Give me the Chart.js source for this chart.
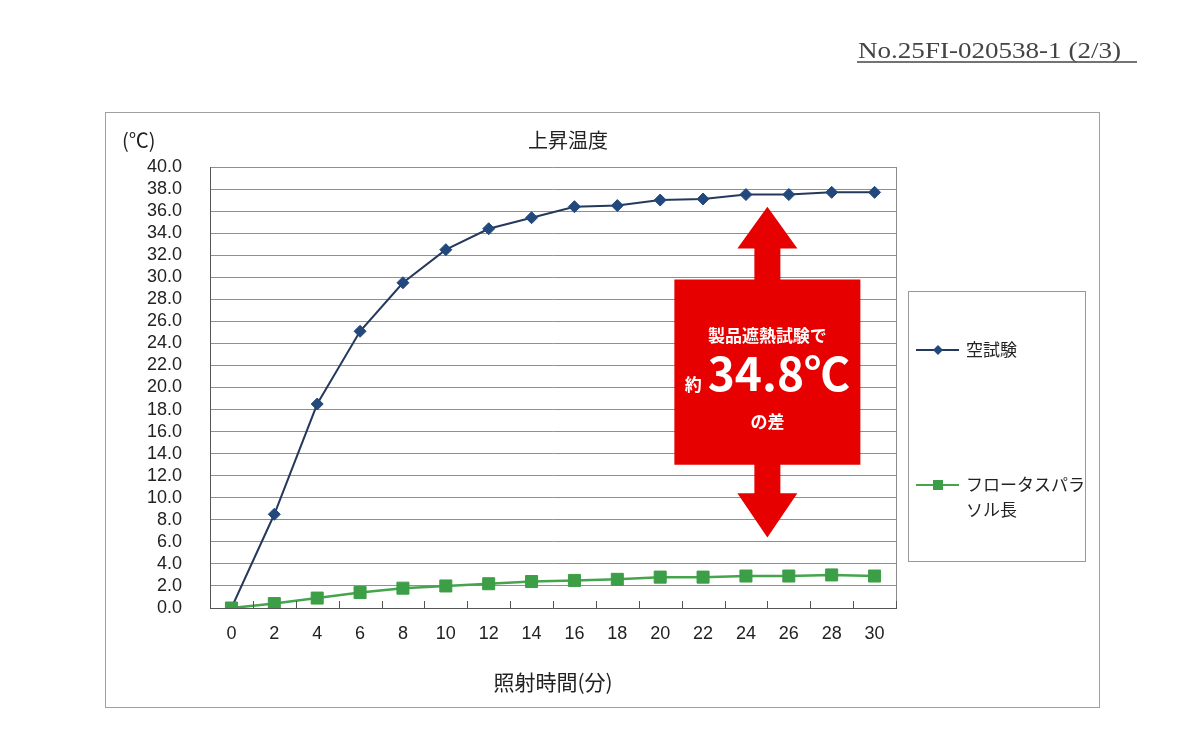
<!DOCTYPE html>
<html lang="ja">
<head>
<meta charset="utf-8">
<title>上昇温度</title>
<script src="https://cdn.jsdelivr.net/npm/chart.js@4.4.1/dist/chart.umd.min.js"></script>
<style>
  html, body { margin: 0; padding: 0; background: #fff; }
  #wrap { width: 1200px; height: 750px; }
</style>
</head>
<body>
<div id="wrap"><canvas id="chart" width="1200" height="750"></canvas></div>
<script>
// データ (照射時間ごとの上昇温度)
const timeLabels = ['0', '2', '4', '6', '8', '10', '12', '14', '16', '18', '20', '22', '24', '26', '28', '30'];
const blankTest = [0, 8.5, 18.5, 25.1, 29.5, 32.5, 34.4, 35.4, 36.4, 36.5, 37.0, 37.1, 37.5, 37.5, 37.7, 37.7];
const parasolTest = [0, 0.4, 0.9, 1.4, 1.8, 2.0, 2.2, 2.4, 2.5, 2.6, 2.8, 2.8, 2.9, 2.9, 3.0, 2.9];
const seriesNames = ['空試験', 'フロータスパラソル長'];
const yMin = 0, yMax = 40, yStep = 2;

const docNumber = 'No.25FI-020538-1 (2/3)';
const chartTitle = '上昇温度';
const unitLabel = '(℃)';
const xTitle = '照射時間(分)';
const noteTop = '製品遮熱試験で';
const notePrefix = '約';
const noteValue = '34.8℃';
const noteBottom = 'の差';

const blueLine = '#25395c';
const blueMark = '#23497c';
const greenLine = '#45a54d';
const greenMark = '#3c9e46';
const noteRed = '#e60000';
const jp = "'Noto Sans CJK JP', 'Noto Sans', sans-serif";
const num = "'Liberation Sans', Arial, sans-serif";

// 装飾 (枠, 見出し, 凡例, 注記の矢印)
const decorPlugin = {
    id: 'decor',
    beforeDraw(chart) {
        const ctx = chart.ctx;
        ctx.save();
        ctx.fillStyle = '#fff';
        ctx.fillRect(0, 0, chart.width, chart.height);
        ctx.restore();
    },
    afterDraw(chart) {
        const ctx = chart.ctx;
        const area = chart.chartArea;
        const xs = chart.scales.x;
        const ys = chart.scales.y;
        ctx.save();

        // プロット領域の右枠
        ctx.strokeStyle = '#8a8a8a';
        ctx.lineWidth = 1;
        ctx.beginPath();
        ctx.moveTo(Math.round(area.right) + 0.5, area.top);
        ctx.lineTo(Math.round(area.right) + 0.5, area.bottom);
        ctx.stroke();

        // X軸の内向き目盛
        const step = xs.getPixelForValue(1) - xs.getPixelForValue(0);
        ctx.strokeStyle = '#555';
        ctx.beginPath();
        for (let i = 0; i <= timeLabels.length; i++) {
            const x = Math.round(xs.getPixelForValue(0) - step / 2 + i * step) + 0.5;
            ctx.moveTo(x, area.bottom);
            ctx.lineTo(x, area.bottom - 7);
        }
        ctx.stroke();

        // 外枠
        ctx.strokeStyle = '#a0a0a0';
        ctx.strokeRect(105.5, 112.5, 994, 595);

        // 文書番号
        ctx.fillStyle = '#444';
        ctx.font = "23px 'Liberation Serif', serif";
        ctx.textBaseline = 'alphabetic';
        ctx.textAlign = 'left';
        const natural = ctx.measureText(docNumber).width;
        ctx.save();
        ctx.translate(858, 58);
        ctx.scale(263 / natural, 1);
        ctx.fillText(docNumber, 0, 0);
        ctx.restore();
        ctx.strokeStyle = '#444';
        ctx.lineWidth = 1.5;
        ctx.beginPath();
        ctx.moveTo(857, 62);
        ctx.lineTo(1137, 62);
        ctx.stroke();

        // タイトル, 単位, X軸タイトル
        ctx.fillStyle = '#222';
        ctx.textBaseline = 'middle';
        ctx.textAlign = 'center';
        ctx.font = '20px ' + jp;
        ctx.fillText(chartTitle, 568, 140);
        ctx.font = '20px ' + jp;
        ctx.textAlign = 'left';
        ctx.fillText(unitLabel, 122, 140);
        ctx.textAlign = 'center';
        ctx.font = '21px ' + jp;
        ctx.fillText(xTitle, (area.left + area.right) / 2, 682);

        // 凡例
        ctx.strokeStyle = '#999';
        ctx.lineWidth = 1;
        ctx.strokeRect(908.5, 291.5, 177, 270);
        const legendRows = [
            { y: 350, line: blueLine, mark: blueMark, shape: 'diamond', text: [seriesNames[0]] },
            { y: 485, line: greenLine, mark: greenMark, shape: 'square', text: [seriesNames[1].slice(0, 7), seriesNames[1].slice(7)] }
        ];
        legendRows.forEach(row => {
            ctx.strokeStyle = row.line;
            ctx.lineWidth = 2;
            ctx.beginPath();
            ctx.moveTo(916, row.y);
            ctx.lineTo(959, row.y);
            ctx.stroke();
            ctx.fillStyle = row.mark;
            ctx.beginPath();
            if (row.shape === 'diamond') {
                ctx.moveTo(938, row.y - 5);
                ctx.lineTo(943, row.y);
                ctx.lineTo(938, row.y + 5);
                ctx.lineTo(933, row.y);
            } else {
                ctx.rect(933, row.y - 5, 10, 10);
            }
            ctx.fill();
            ctx.fillStyle = '#222';
            ctx.font = '17px ' + jp;
            ctx.textAlign = 'left';
            row.text.forEach((t, k) => ctx.fillText(t, 966, row.y + k * 25));
        });

        // 注記: 赤い両矢印と箱
        const cx = (xs.getPixelForValue(12) + xs.getPixelForValue(13)) / 2;
        const topTip = ys.getPixelForValue(36.4);
        const topBase = ys.getPixelForValue(32.6);
        const boxTop = ys.getPixelForValue(29.8);
        const boxBottom = ys.getPixelForValue(13.0);
        const botBase = ys.getPixelForValue(10.4);
        const botTip = ys.getPixelForValue(6.4);
        const headW = 30, shaftW = 13, boxW = 93;
        ctx.fillStyle = noteRed;
        ctx.beginPath();
        ctx.moveTo(cx, topTip);
        ctx.lineTo(cx + headW, topBase);
        ctx.lineTo(cx + shaftW, topBase);
        ctx.lineTo(cx + shaftW, boxTop);
        ctx.lineTo(cx + boxW, boxTop);
        ctx.lineTo(cx + boxW, boxBottom);
        ctx.lineTo(cx + shaftW, boxBottom);
        ctx.lineTo(cx + shaftW, botBase);
        ctx.lineTo(cx + headW, botBase);
        ctx.lineTo(cx, botTip);
        ctx.lineTo(cx - headW, botBase);
        ctx.lineTo(cx - shaftW, botBase);
        ctx.lineTo(cx - shaftW, boxBottom);
        ctx.lineTo(cx - boxW, boxBottom);
        ctx.lineTo(cx - boxW, boxTop);
        ctx.lineTo(cx - shaftW, boxTop);
        ctx.lineTo(cx - shaftW, topBase);
        ctx.lineTo(cx - headW, topBase);
        ctx.closePath();
        ctx.fill();

        ctx.fillStyle = '#fff';
        ctx.textAlign = 'center';
        ctx.textBaseline = 'middle';
        ctx.font = 'bold 17px ' + jp;
        ctx.fillText(noteTop, cx, boxTop + 56);
        ctx.fillText(noteBottom, cx, boxTop + 142);
        ctx.textBaseline = 'alphabetic';
        ctx.font = 'bold 17px ' + jp;
        const wPre = ctx.measureText(notePrefix).width;
        ctx.font = 'bold 46px ' + jp;
        const wVal = ctx.measureText(noteValue).width;
        const gap = 6;
        const startX = cx - (wPre + gap + wVal) / 2;
        ctx.textAlign = 'left';
        ctx.fillText(noteValue, startX + wPre + gap, boxTop + 112);
        ctx.font = 'bold 17px ' + jp;
        ctx.fillText(notePrefix, startX, boxTop + 112);

        ctx.restore();
    }
};

const ctx = document.getElementById('chart').getContext('2d');
new Chart(ctx, {
    type: 'line',
    data: {
        labels: timeLabels,
        datasets: [
            {
                label: seriesNames[0],
                data: blankTest,
                order: 1,
                borderColor: blueLine,
                borderWidth: 2,
                pointStyle: 'rectRot',
                pointRadius: 6,
                pointBackgroundColor: blueMark,
                pointBorderColor: blueMark,
                pointBorderWidth: 1,
                tension: 0
            },
            {
                label: seriesNames[1],
                data: parasolTest,
                order: 0,
                borderColor: greenLine,
                borderWidth: 2.5,
                pointStyle: 'rect',
                pointRadius: 8.5,
                pointBackgroundColor: greenMark,
                pointBorderColor: greenMark,
                pointBorderWidth: 1,
                tension: 0
            }
        ]
    },
    options: {
        responsive: false,
        animation: false,
        devicePixelRatio: 1,
        layout: { padding: { top: 167, right: 304, left: 0, bottom: 0 } },
        plugins: {
            legend: { display: false },
            title: { display: false },
            tooltip: { enabled: false }
        },
        scales: {
            x: {
                type: 'category',
                offset: true,
                grid: { offset: true, drawOnChartArea: false, drawTicks: false },
                border: { display: true, color: '#555', width: 1 },
                ticks: {
                    padding: 15,
                    color: '#222',
                    font: { family: num, size: 18 },
                    maxRotation: 0,
                    autoSkip: false
                },
                afterFit(scale) { scale.height = 142; }
            },
            y: {
                min: yMin,
                max: yMax,
                grid: { color: '#8f8f8f', drawTicks: false, lineWidth: 1 },
                border: { display: true, color: '#555', width: 1 },
                ticks: {
                    stepSize: yStep,
                    autoSkip: false,
                    padding: 28,
                    color: '#222',
                    font: { family: num, size: 18 },
                    callback: function(value) { return value.toFixed(1); }
                },
                afterFit(scale) { scale.width = 210; }
            }
        }
    },
    plugins: [decorPlugin]
});
</script>
</body>
</html>
